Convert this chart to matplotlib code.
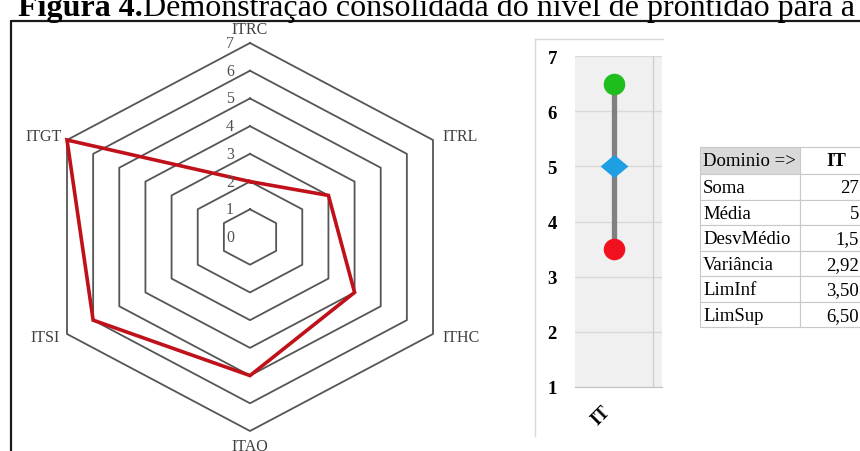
import numpy as np
import matplotlib
matplotlib.use("Agg")
import matplotlib.pyplot as plt
from matplotlib.patches import Rectangle

plt.rcParams["font.family"] = ["Liberation Serif", "DejaVu Serif"]

# radar data (clockwise from the top)
categories = ["ITRC", "ITRL", "ITHC", "ITAO", "ITSI", "ITGT"]
scores = [2, 3, 4, 5, 6, 7]
ring_levels = [1, 2, 3, 4, 5, 6, 7]
radial_ticks = [0, 1, 2, 3, 4, 5, 6, 7]

# readiness interval per domain
domains = ["IT"]
lim_sup = [6.5]
media = [5]
lim_inf = [3.5]
y_ticks = [1, 2, 3, 4, 5, 6, 7]

# summary table
stat_names = ["Soma", "Média", "DesvMédio", "Variância", "LimInf", "LimSup"]
stat_values = ["27", "5", "1,5", "2,92", "3,50", "6,50"]

W, H = 860, 452
fig = plt.figure(figsize=(W / 100, H / 100), dpi=100)


def px_axes(left, top, width, height):
    return fig.add_axes([left / W, 1 - (top + height) / H, width / W, height / H])


# background layer in pixel units (frame, title, table)
bg = fig.add_axes([0, 0, 1, 1])
bg.set_xlim(0, W)
bg.set_ylim(H, 0)
bg.axis("off")

bg.plot([11, 11], [21, H], color="#1a1a1a", lw=1.6, solid_capstyle="butt")
bg.plot([11, W], [21.5, 21.5], color="#1a1a1a", lw=1.6, solid_capstyle="butt")

t1 = bg.text(18, 16, "Figura 4.", fontsize=23, fontweight="bold", va="baseline", ha="left")
bg.annotate("Demonstração consolidada do nível de prontidão para a",
            xy=(1, 0), xycoords=t1, va="bottom", ha="left", fontsize=23)

# chart box around the interval plot
bg.plot([535, 535], [40, 437], color="#D9D9D9", lw=1)
bg.plot([535, 663], [40, 40], color="#D9D9D9", lw=1)

# table
tx0, tx1, tx2 = 700, 800, 872
top, head_h, row_h = 148, 27, 25.5
bg.add_patch(Rectangle((tx0, top), tx1 - tx0, head_h, facecolor="#D9D9D9",
                       edgecolor="#C8C8C8", lw=0.8))
bg.add_patch(Rectangle((tx1, top), tx2 - tx1, head_h, facecolor="white",
                       edgecolor="#C8C8C8", lw=0.8))
bg.text(tx0 + 3, top + head_h / 2, "Dominio =>", fontsize=13.5, va="center", ha="left")
bg.text((tx1 + tx2) / 2, top + head_h / 2, domains[0], fontsize=13.5,
        fontweight="bold", va="center", ha="center")
for i, (name, val) in enumerate(zip(stat_names, stat_values)):
    y0 = top + head_h + i * row_h
    for xa, xb in [(tx0, tx1), (tx1, tx2)]:
        bg.add_patch(Rectangle((xa, y0), xb - xa, row_h, facecolor="white",
                               edgecolor="#C8C8C8", lw=0.8))
    bg.text(tx0 + 3, y0 + row_h / 2 + 1, name, fontsize=13.5, va="center", ha="left")
    bg.text(859, y0 + row_h / 2 + 1, val, fontsize=13.5, va="center", ha="right")

# radar chart, drawn on plain axes (the source picture is stretched sideways)
cx, cy = 250, 238
sx = 183 / (7 * np.cos(np.pi / 6))
sy = 194 / 7
rad = px_axes(cx - 215, cy - 225, 430, 450)
rad.set_xlim(-215 / sx, 215 / sx)
rad.set_ylim(-225 / sy, 225 / sy)
rad.axis("off")

theta = np.arange(len(categories)) * 2 * np.pi / len(categories)
ring_theta = np.append(theta, theta[0])
for r in ring_levels:
    rad.plot(r * np.sin(ring_theta), r * np.cos(ring_theta), color="#555555", lw=1.3)

vals = np.array(scores + scores[:1], dtype=float)
rad.plot(vals * np.sin(ring_theta), vals * np.cos(ring_theta), color="#C0101A", lw=2.6,
         solid_joinstyle="miter")

for r in radial_ticks:
    rad.text(-20 / sx, r, str(r), fontsize=11.5, color="#505050", ha="center", va="center")

rmax = max(ring_levels)
label_pos = {
    "ITRC": (0, rmax + 14 / sy, "center"),
    "ITRL": (rmax * np.sin(theta[1]) + 9 / sx, rmax * np.cos(theta[1]) + 4 / sy, "left"),
    "ITHC": (rmax * np.sin(theta[2]) + 9 / sx, rmax * np.cos(theta[2]) - 3 / sy, "left"),
    "ITAO": (0, -rmax - 15 / sy, "center"),
    "ITSI": (rmax * np.sin(theta[4]) - 7 / sx, rmax * np.cos(theta[4]) - 3 / sy, "right"),
    "ITGT": (rmax * np.sin(theta[5]) - 5 / sx, rmax * np.cos(theta[5]) + 4 / sy, "right"),
}
for name in categories:
    x, y, ha = label_pos[name]
    rad.text(x, y, name, fontsize=11.5, color="#404040", ha=ha, va="center")

# interval plot
dp = px_axes(575, 57, 87, 331)
dp.set_facecolor("#F0F0F0")
xs = np.arange(len(domains))
dp.vlines(xs, lim_inf, lim_sup, color="#808080", lw=3.8, zorder=2)
diamond = [(-1.2, 0), (0, 1), (1.2, 0), (0, -1), (-1.2, 0)]
dp.plot(xs, lim_sup, "o", color="#1DBE1D", ms=15.5, mec="none", zorder=3)
dp.plot(xs, media, marker=diamond, ls="none", color="#1E9FE3", ms=20, mec="none", zorder=3)
dp.plot(xs, lim_inf, "o", color="#F0101E", ms=15.5, mec="none", zorder=3)
dp.set_xlim(-0.5, 0.62)
dp.set_ylim(1, 7)
dp.set_yticks(y_ticks)
dp.set_yticklabels([str(v) for v in y_ticks], fontweight="bold", fontsize=13.5)
dp.set_xticks(xs)
dp.set_xticklabels(domains, rotation=45, ha="right", fontweight="bold", fontsize=13)
dp.tick_params(axis="y", length=0, pad=13)
dp.tick_params(axis="x", length=0, pad=11)
dp.grid(axis="y", color="#D9D9D9", lw=1)
dp.axvline(0.5, color="#D0D0D0", lw=1)
for side in ["top", "right", "left"]:
    dp.spines[side].set_visible(False)
dp.spines["bottom"].set_color("#C0C0C0")

fig.savefig("out.png", dpi=100)
